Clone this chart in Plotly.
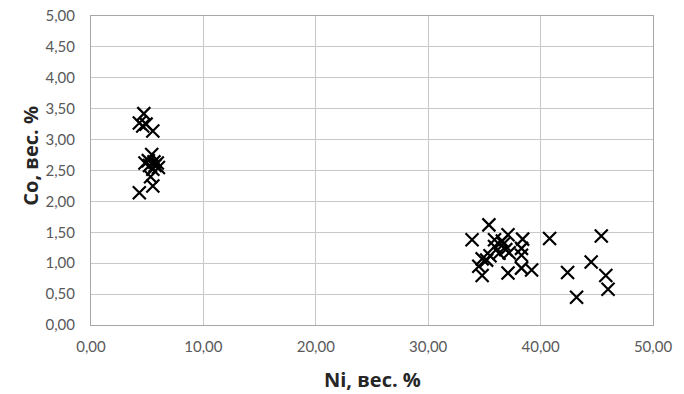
import plotly.graph_objects as go

ni_group1 = [4.7, 4.3, 4.6, 4.9, 5.5, 5.4, 4.8, 5.2, 5.6, 5.9, 6.0, 5.5, 5.1, 5.7, 5.3, 5.5, 4.3]
co_group1 = [3.42, 3.27, 3.22, 3.25, 3.14, 2.76, 2.62, 2.58, 2.64, 2.62, 2.55, 2.52, 2.66, 2.58, 2.40, 2.25, 2.14]

ni_group2 = [33.9, 35.4, 35.9, 37.1, 38.4, 40.8, 45.4, 35.9, 36.7, 36.9, 37.2, 38.3, 38.3, 36.3,
             35.5, 34.8, 34.5, 34.8, 37.1, 38.3, 39.2, 42.4, 44.5, 45.8, 46.0, 43.2, 35.2, 36.6]
co_group2 = [1.38, 1.62, 1.38, 1.46, 1.39, 1.40, 1.44, 1.27, 1.31, 1.22, 1.17, 1.24, 1.13, 1.16,
             1.12, 1.07, 0.95, 0.80, 0.84, 0.92, 0.89, 0.85, 1.02, 0.80, 0.58, 0.45, 1.05, 1.36]

x_ticks = [0, 10, 20, 30, 40, 50]
y_ticks = [0, 0.5, 1, 1.5, 2, 2.5, 3, 3.5, 4, 4.5, 5]

x_title = "Ni, вес. %"
y_title = "Co, вес. %"

marker = dict(symbol="x-thin", size=13, color="black", line=dict(color="black", width=2.2))

fig = go.Figure()
fig.add_trace(go.Scatter(x=ni_group1 + ni_group2, y=co_group1 + co_group2, mode="markers",
                         marker=marker, showlegend=False, cliponaxis=False))

font_family = "Lato, Open Sans, sans-serif"
title_family = "Open Sans, Lato, sans-serif"
fig.update_layout(
    width=684, height=394,
    margin=dict(l=91, r=31, t=16, b=69, autoexpand=False),
    paper_bgcolor="white", plot_bgcolor="white",
    separators=", ",
    font=dict(family=font_family, size=15, color="#595959"),
    annotations=[
        dict(text="<b>" + x_title + "</b>", xref="paper", yref="paper", x=0.5, y=-0.176,
             xanchor="center", yanchor="middle", showarrow=False,
             font=dict(size=20, color="#262626", family=title_family)),
        dict(text="<b>" + y_title + "</b>", xref="paper", yref="paper", x=-0.108, y=0.549,
             xanchor="center", yanchor="middle", showarrow=False, textangle=-90,
             font=dict(size=20, color="#262626", family=title_family)),
    ],
)
fig.update_xaxes(
    range=[0, 50], tickvals=x_ticks, tickformat=".2f", automargin=False,
    showgrid=True, gridcolor="#c8c8c8", gridwidth=1,
    showline=True, linecolor="#a6a6a6", linewidth=1, mirror=True,
    zeroline=False, ticks="", ticklabelstandoff=8,
    tickfont=dict(size=15, color="#595959"),
)
fig.update_yaxes(
    range=[0, 5], tickvals=y_ticks, tickformat=".2f", automargin=False,
    showgrid=True, gridcolor="#c8c8c8", gridwidth=1,
    showline=True, linecolor="#a6a6a6", linewidth=1, mirror=True,
    zeroline=False, ticks="", ticklabelstandoff=12,
    tickfont=dict(size=15, color="#595959"),
)

fig.write_html("out.html", config={"displayModeBar": False},
               post_script="document.body.style.margin='0';")
